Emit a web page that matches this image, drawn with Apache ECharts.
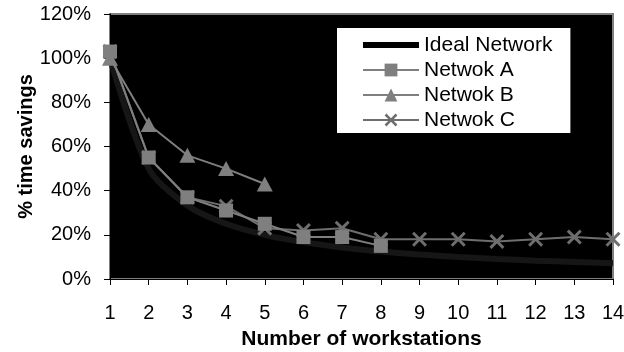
<!DOCTYPE html>
<html><head><meta charset="utf-8">
<script src="https://cdn.jsdelivr.net/npm/echarts@6/dist/echarts.min.js"></script>
<style>html,body{margin:0;padding:0;background:#fff}#c{width:624px;height:352px}</style>
</head><body><div id="c"></div>
<script>
const workstations = [1,2,3,4,5,6,7,8,9,10,11,12,13,14];
const yTicks = ['0%','20%','40%','60%','80%','100%','120%'];
const idealNetwork = [100,50,33.3,25,20,16.7,14.3,12.5,11.1,10,9.1,8.3,7.7,7.1];
const networkA = [103,55,37,31,25,19,19,15];
const networkB = [100,70,56,50,43];
const networkC = [103,55,37,33,23,22,23,18,18,18,17,18,19,18];

const pair = (vals) => vals.map((v,i)=>[workstations[i], v]);
const xPath = 'path://M0,1.4L1.4,0L5,3.6L8.6,0L10,1.4L6.4,5L10,8.6L8.6,10L5,6.4L1.4,10L0,8.6L3.6,5Z';
const barPath = 'path://M0,0H56V6H0Z';
const gray = '#7f7f7f';
const font = 'Liberation Sans, Arial, sans-serif';

const chart = echarts.init(document.getElementById('c'), null, {renderer:'canvas'});
chart.setOption({
  animation:false,
  grid:{left:110,right:11,top:14,bottom:73,show:true,containLabel:false,outerBoundsMode:'none',
    backgroundColor:'#000',borderColor:gray,borderWidth:2},
  xAxis:{type:'value',min:1,max:14,interval:1,
    name:'Number of workstations',nameLocation:'middle',nameGap:50,nameMoveOverlap:false,
    nameTextStyle:{fontFamily:font,fontSize:21,fontWeight:'bold',color:'#000'},
    axisLine:{lineStyle:{color:'#000',width:1}},
    axisTick:{show:true,length:6,lineStyle:{color:'#000'}},
    axisLabel:{fontFamily:font,fontSize:20,color:'#000',margin:24},
    splitLine:{show:false}},
  yAxis:{type:'value',min:0,max:120,interval:20,
    name:'% time savings',nameLocation:'middle',nameGap:74,nameMoveOverlap:false,
    nameTextStyle:{fontFamily:font,fontSize:20,fontWeight:'bold',color:'#000'},
    axisLine:{show:true,lineStyle:{color:'#000',width:1}},
    axisTick:{show:true,length:6,lineStyle:{color:'#000'}},
    axisLabel:{fontFamily:font,fontSize:20,color:'#000',margin:19,formatter:(v)=>yTicks[v/20]},
    splitLine:{show:false}},
  legend:{show:true,orient:'vertical',left:337,top:28,
    backgroundColor:'#fff',borderColor:'#fff',padding:[6,18,2,25],itemGap:3,
    itemWidth:56,itemHeight:16,
    textStyle:{fontFamily:font,fontSize:21,lineHeight:22,color:'#000'},
    data:[{name:'Ideal Network',icon:barPath},'Netwok A','Netwok B','Netwok C']},
  series:[
    {name:'Ideal Network',type:'line',data:pair(idealNetwork),symbol:'none',smooth:0.3,
     lineStyle:{color:'#161616',width:6},itemStyle:{color:'#000'},z:1},
    {name:'Netwok A',type:'line',data:pair(networkA),symbol:'rect',symbolSize:14,
     lineStyle:{color:gray,width:2},itemStyle:{color:gray},z:3},
    {name:'Netwok B',type:'line',data:pair(networkB),symbol:'triangle',symbolSize:[16,15],
     lineStyle:{color:gray,width:2},itemStyle:{color:gray},z:3},
    {name:'Netwok C',type:'line',data:pair(networkC),symbol:xPath,symbolSize:15,
     lineStyle:{color:'#6e6e6e',width:2},itemStyle:{color:'#6e6e6e'},z:2}
  ]
});
</script></body></html>
